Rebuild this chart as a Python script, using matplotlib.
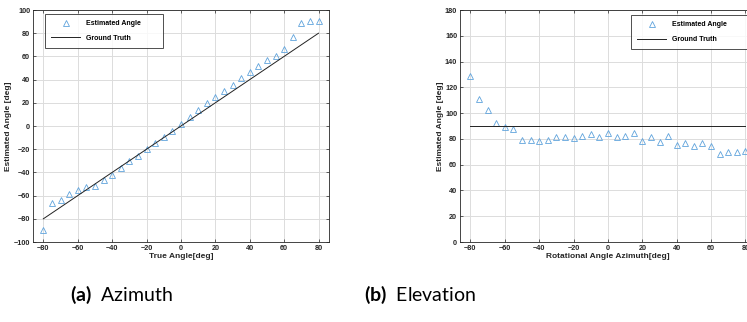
import numpy as np
import matplotlib
matplotlib.use('Agg')
from matplotlib import pyplot as plt

# azimuth / elevation test positions
true_az = np.arange(-80, 81, 5)

est_az = [-90, -66, -63.5, -59, -55.4, -52.5, -51.4, -46.5, -42, -36, -30,
          -25.5, -20, -14.5, -9.4, -4, 1.5, 7.6, 13.7, 20, 24.6, 30.6, 35.5,
          41.6, 46.8, 52, 56.8, 60.6, 66.6, 77, 89, 90.8, 90.8]

est_el = [128.7, 110.6, 102.8, 92.5, 89.4, 87.8, 79.5, 79.5, 78.5, 79.5, 81.6,
          81.6, 80.8, 82.6, 83.9, 81.6, 84.7, 81.6, 82.6, 84.7, 78.5, 81.6,
          77.7, 82.6, 75.6, 76.7, 74.6, 76.7, 74.6, 68.6, 69.7, 69.7, 70.7]
truth_el = [90, 90]
truth_el_x = [-80, 80]

plt.rcParams['font.family'] = ['Liberation Sans', 'DejaVu Sans']
plt.rcParams['font.weight'] = 'bold'
plt.rcParams['axes.labelweight'] = 'bold'
plt.rcParams['mathtext.fontset'] = 'custom'
plt.rcParams['mathtext.bf'] = 'Lato:bold'

MARK = '#5fa3dc'


def style(ax, ylim, yticks, xlabel):
    ax.set_xlim(-86, 86)
    ax.set_ylim(*ylim)
    ax.set_xticks(np.arange(-80, 81, 20))
    ax.set_yticks(yticks)
    ax.tick_params(direction='in', labelsize=5.2, length=2.5, width=0.5,
                   top=True, right=True, pad=2, colors='#262626')
    ax.grid(True, color='#dcdcdc', linewidth=0.7)
    ax.set_axisbelow(True)
    for s in ax.spines.values():
        s.set_linewidth(0.6)
        s.set_color('#262626')
    ax.set_xlabel(xlabel, fontsize=6, labelpad=1, color='#262626')
    ax.set_ylabel('Estimated Angle [deg]', fontsize=6, labelpad=1, color='#262626')


fig = plt.figure(figsize=(7.47, 3.22), dpi=100)
ax1 = fig.add_axes([0.0442, 0.2484, 0.396, 0.7205])
ax2 = fig.add_axes([0.6158, 0.2484, 0.396, 0.7205])

ax1.plot(true_az, est_az, '^', mfc='none', mec=MARK, ms=3.8, mew=0.6,
         label='Estimated Angle')
ax1.plot([-80, 80], [-80, 80], color='#222222', lw=0.7, label='Ground Truth')
style(ax1, (-100, 100), np.arange(-100, 101, 20), 'True Angle[deg]')
leg = ax1.legend(loc='upper left', bbox_to_anchor=(0.04, 0.835, 0.4, 0.148),
                 mode='expand', borderaxespad=0, fontsize=5, fancybox=False,
                 edgecolor='#222222', handlelength=4.2, labelspacing=1.1,
                 borderpad=0.9)
leg.get_frame().set_linewidth(0.7)

ax2.plot(true_az, est_el, '^', mfc='none', mec=MARK, ms=3.8, mew=0.6,
         label='Estimated Angle')
ax2.plot(truth_el_x, truth_el, color='#222222', lw=0.7, label='Ground Truth')
style(ax2, (0, 180), np.arange(0, 181, 20), 'Rotational Angle Azimuth[deg]')
leg = ax2.legend(loc='upper left', bbox_to_anchor=(0.578, 0.83, 0.4, 0.148),
                 mode='expand', borderaxespad=0, fontsize=5, fancybox=False,
                 edgecolor='#222222', handlelength=4.2, labelspacing=1.1,
                 borderpad=0.9)
leg.get_frame().set_linewidth(0.7)

fig.text(121 / 747, 1 - 295 / 322, r'$\mathbf{(a)}$  Azimuth', ha='center', va='center',
         fontsize=14, family='Lato', weight='normal')
fig.text(420 / 747, 1 - 295 / 322, r'$\mathbf{(b)}$  Elevation', ha='center', va='center',
         fontsize=14, family='Lato', weight='normal')

fig.savefig('out.png', dpi=100)
